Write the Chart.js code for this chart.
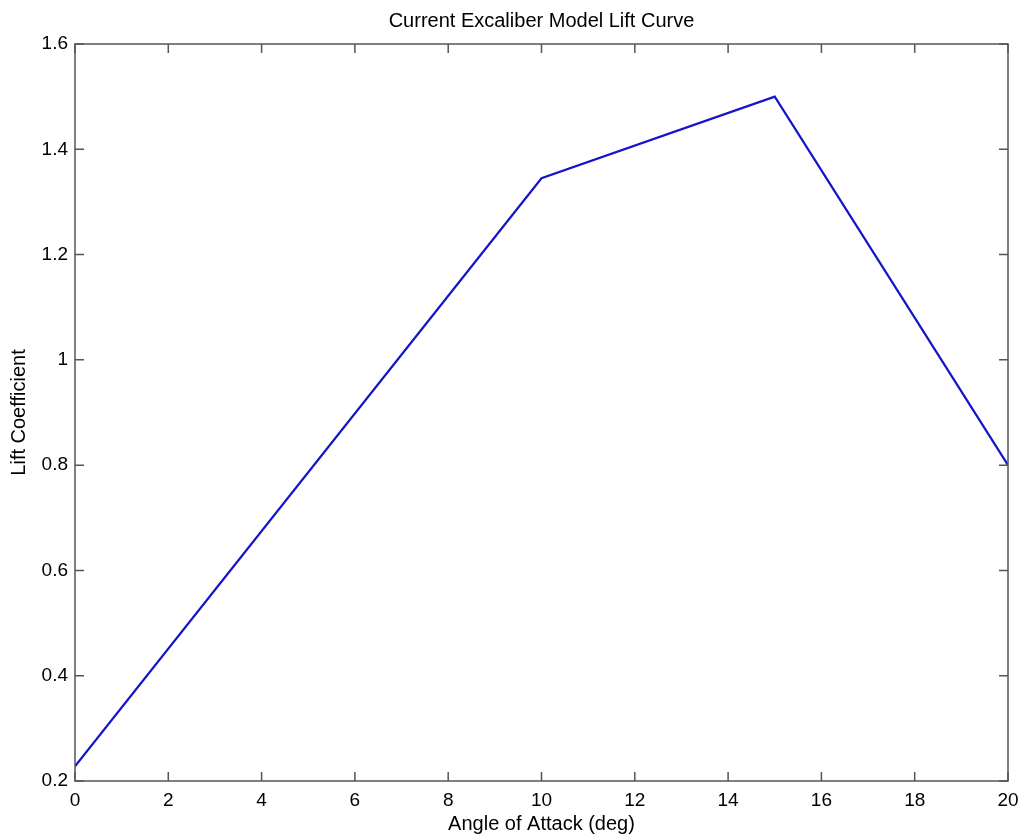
<!DOCTYPE html>
<html>
<head>
<meta charset="utf-8">
<script src="https://cdn.jsdelivr.net/npm/chart.js@4.4.1/dist/chart.umd.min.js"></script>
<style>
  html, body { margin: 0; padding: 0; background: #fff; }
</style>
</head>
<body>
<canvas id="liftChart" width="1022" height="836"></canvas>
<script>
// values
var angles = [0, 10, 15, 20];
var liftCoeff = [0.228, 1.345, 1.5, 0.8];
var xTicks = [0, 2, 4, 6, 8, 10, 12, 14, 16, 18, 20];
var yTicks = [0.2, 0.4, 0.6, 0.8, 1, 1.2, 1.4, 1.6];

// matlab style box with inward ticks
var boxTicks = {
    id: 'boxTicks',
    afterDraw: function(chart) {
        var ctx = chart.ctx, a = chart.chartArea;
        var xs = chart.scales.x, ys = chart.scales.y;
        var len = 9;
        ctx.save();
        ctx.strokeStyle = '#555';
        ctx.lineWidth = 1.5;
        ctx.strokeRect(a.left, a.top, a.right - a.left, a.bottom - a.top);
        ctx.beginPath();
        xTicks.forEach(function(v) {
            var px = xs.getPixelForValue(v);
            ctx.moveTo(px, a.bottom); ctx.lineTo(px, a.bottom - len);
            ctx.moveTo(px, a.top); ctx.lineTo(px, a.top + len);
        });
        yTicks.forEach(function(v) {
            var py = ys.getPixelForValue(v);
            ctx.moveTo(a.left, py); ctx.lineTo(a.left + len, py);
            ctx.moveTo(a.right, py); ctx.lineTo(a.right - len, py);
        });
        ctx.stroke();
        ctx.restore();
    }
};

var fontFam = '"Liberation Sans", Arial, sans-serif';

new Chart(document.getElementById('liftChart'), {
    type: 'line',
    data: {
        datasets: [{
            data: angles.map(function(a, i) { return {x: a, y: liftCoeff[i]}; }),
            borderColor: '#1515c8',
            borderWidth: 2.2,
            pointRadius: 0,
            fill: false,
            tension: 0
        }]
    },
    options: {
        responsive: false,
        animation: false,
        layout: { padding: { top: 0, right: 14, bottom: 0, left: 0 } },
        plugins: {
            legend: { display: false },
            tooltip: { enabled: false },
            title: {
                display: true,
                fullSize: false,
                text: 'Current Excaliber Model Lift Curve',
                color: '#000',
                font: { family: fontFam, size: 20, weight: 'normal' },
                padding: { top: 9, bottom: 11 }
            }
        },
        scales: {
            x: {
                type: 'linear',
                min: 0, max: 20,
                afterBuildTicks: function(s) { s.ticks = xTicks.map(function(v) { return {value: v}; }); },
                afterFit: function(s) { s.height = 55; s.paddingLeft = 0; s.paddingRight = 0; },
                grid: { display: false, drawTicks: false },
                border: { display: false },
                ticks: { color: '#000', padding: 8, maxRotation: 0, font: { family: fontFam, size: 19 } },
                title: {
                    display: true,
                    text: 'Angle of Attack (deg)',
                    color: '#000',
                    font: { family: fontFam, size: 20 },
                    padding: { top: 0, bottom: 0 }
                }
            },
            y: {
                type: 'linear',
                min: 0.2, max: 1.6,
                afterBuildTicks: function(s) { s.ticks = yTicks.map(function(v) { return {value: v}; }); },
                afterFit: function(s) { s.width = 75; s.paddingTop = 0; s.paddingBottom = 0; },
                grid: { display: false, drawTicks: false },
                border: { display: false },
                ticks: {
                    color: '#000', padding: 7,
                    font: { family: fontFam, size: 19 },
                    callback: function(v) { return String(Math.round(v * 10) / 10); }
                },
                title: {
                    display: true,
                    text: 'Lift Coefficient',
                    color: '#000',
                    font: { family: fontFam, size: 20 },
                    padding: { top: 7, bottom: 0 }
                }
            }
        }
    },
    plugins: [boxTicks]
});
</script>
</body>
</html>
